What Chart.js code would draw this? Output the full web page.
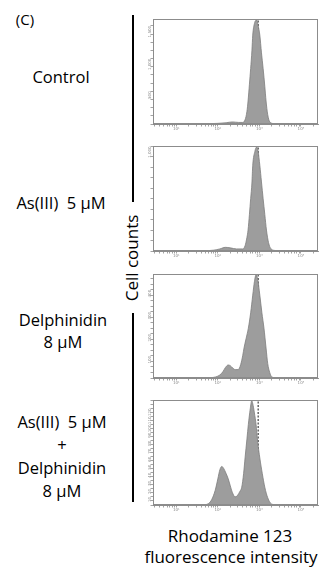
<!DOCTYPE html>
<html><head><meta charset="utf-8">
<script src="https://cdn.jsdelivr.net/npm/chart.js@4"></script>
<style>
body{margin:0;width:320px;height:570px;background:#fff;position:relative;overflow:hidden;font-family:'Open Sans',sans-serif;color:#000}
.t{position:absolute;white-space:nowrap;transform:translate(-50%,-50%);font-size:16.5px;line-height:1}
.c{position:absolute}
.bar{position:absolute;left:132px;width:2px;background:#000}
</style></head><body>
<div class="t" style="left:25px;top:19px;font-size:15px">(C)</div>
<div class="t" style="left:61px;top:77px">Control</div>
<div class="t" style="left:61px;top:203px">As(III)&nbsp; 5 µM</div>
<div class="t" style="left:63px;top:320px">Delphinidin</div>
<div class="t" style="left:63px;top:342px">8 µM</div>
<div class="t" style="left:62px;top:422px">As(III)&nbsp; 5 µM</div>
<div class="t" style="left:62px;top:445px">+</div>
<div class="t" style="left:62px;top:468px">Delphinidin</div>
<div class="t" style="left:62px;top:491px">8 µM</div>
<div class="bar" style="top:15px;height:187px"></div>
<div class="bar" style="top:313px;height:189px"></div>
<div class="t" style="left:131px;top:258px;font-size:17px;transform:translate(-50%,-50%) rotate(-90deg)">Cell counts</div>
<div class="t" style="left:230px;top:535px;font-size:17px">Rhodamine 123</div>
<div class="t" style="left:231px;top:556px;font-size:17px">fluorescence intensity</div>
<canvas id="p0" class="c"></canvas>
<canvas id="p1" class="c"></canvas>
<canvas id="p2" class="c"></canvas>
<canvas id="p3" class="c"></canvas>
<script>
// ---- data (x = log10 Rhodamine 123 fluorescence, y = cell counts) ----
const logFluorControl = [1.3,1.8,2.0,2.2,2.35,2.5,2.6,2.655,2.7,2.727,2.76,2.79,2.82,2.84,2.88,2.935,2.97,3.01,3.05,3.09,3.13,3.16,3.2,3.25,3.35,3.6];
const countsControl   = [0,5,10,19,32,24,24,64,192,352,608,848,1120,1360,1536,1590,1504,1360,1088,848,576,352,144,32,6,0];

const logFluorAs = [1.3,1.7,1.9,2.05,2.18,2.3,2.45,2.6,2.655,2.7,2.727,2.76,2.79,2.82,2.84,2.89,2.935,2.97,3.01,3.05,3.09,3.13,3.17,3.22,3.28,3.4,3.6];
const countsAs   = [0,3,8,20,35,30,20,20,50,130,200,350,500,650,820,950,995,950,820,660,500,350,200,80,20,4,0];

const logFluorDel = [1.5,1.75,1.95,2.05,2.12,2.18,2.25,2.3,2.36,2.42,2.49,2.55,2.6,2.63,2.68,2.734,2.79,2.84,2.88,2.92,2.96,3.01,3.06,3.11,3.16,3.2,3.25,3.3,3.4,3.6];
const countsDel   = [0,1,5,14,28,47,59,56,45,38,38,61,103,136,179,226,296,376,437,468,447,376,296,226,136,66,24,5,1,0];

const logFluorAsDel = [1.5,1.7,1.78,1.85,1.935,2.0,2.05,2.095,2.14,2.2,2.25,2.295,2.35,2.415,2.47,2.53,2.575,2.62,2.655,2.7,2.734,2.78,2.815,2.85,2.88,2.92,2.96,3.01,3.07,3.13,3.2,3.29,3.4,3.6];
const countsAsDel   = [0,0.4,2,6.5,18,32.5,44,48,45.5,39,32.5,24.7,15.6,10.1,11.7,16.9,22.1,39,58.5,81.9,100,119.6,129.5,123.5,114.4,100,78,58.5,39,22.1,9.1,1.3,0.3,0];

const markerLog = 2.97;               // vertical reference line (control peak)
const xDecades = [1,2,3,4];
const xDecadeLabels = ['10¹','10²','10³','10⁴'];
const xRange = [0.44, 4.41];

const yMaxes = [1600, 1000, 470, 130];
const yTickSteps = [125, 100, 25, 5];
const yTickLabels = [[500,1000,1500],[250,750,1000],[100,200,300,400],[10,20,30,40,50,60,70,80,90,100,110,120]];

// ---- layout ----
const boxTops = [17,144,272,398];
const boxHeights = [107,107,106,107];
const panels = [
  [logFluorControl, countsControl],
  [logFluorAs, countsAs],
  [logFluorDel, countsDel],
  [logFluorAsDel, countsAsDel]
];

const xTickVals = [];
for (let d = 0; d <= 4; d++) {
  for (let k = 1; k <= 9; k++) {
    const v = d + Math.log10(k);
    if (v >= xRange[0] && v <= xRange[1]) xTickVals.push(k === 1 ? d : v);
  }
}

const boxPlugin = {
  id: 'box',
  afterDatasetsDraw(chart) {
    const a = chart.chartArea, ctx = chart.ctx;
    ctx.save();
    ctx.strokeStyle = '#8c8c8c';
    ctx.lineWidth = 1;
    ctx.strokeRect(Math.round(a.left) + 0.5, Math.round(a.top) + 0.5, Math.round(a.right - a.left) - 1, Math.round(a.bottom - a.top) - 1);
    ctx.restore();
  }
};

panels.forEach((p, i) => {
  const cv = document.getElementById('p' + i);
  const h = 1 + boxHeights[i] + 12;
  cv.width = 179; cv.height = h;
  cv.style.left = '141px'; cv.style.top = (boxTops[i] - 1) + 'px';
  cv.style.width = '179px'; cv.style.height = h + 'px';
  const yMax = yMaxes[i];
  const yTicks = [];
  for (let v = 0; v <= yMax; v += yTickSteps[i]) yTicks.push(v);
  new Chart(cv, {
    type: 'line',
    data: {
      datasets: [
        {
          data: p[0].map((x, j) => ({ x: x, y: p[1][j] })),
          fill: 'origin',
          backgroundColor: '#9d9d9d',
          borderColor: '#7e7e7e',
          borderWidth: 0.8,
          pointRadius: 0,
          tension: 0.3,
          cubicInterpolationMode: 'monotone'
        },
        {
          data: [{ x: markerLog, y: 0 }, { x: markerLog, y: yMax }],
          borderColor: '#1a1a1a',
          borderWidth: 1,
          borderDash: [2, 1.5],
          pointRadius: 0,
          fill: false
        }
      ]
    },
    options: {
      responsive: false,
      animation: false,
      devicePixelRatio: 1,
      layout: { padding: { top: 1, right: 2, left: 0, bottom: 0 } },
      plugins: { legend: { display: false }, tooltip: { enabled: false } },
      scales: {
        x: {
          type: 'linear', min: xRange[0], max: xRange[1],
          afterBuildTicks: s => { s.ticks = xTickVals.map(v => ({ value: v })); },
          afterFit: s => { s.height = 12; },
          ticks: {
            autoSkip: false, maxRotation: 0, minRotation: 0, padding: 0,
            font: { size: 4, family: 'DejaVu Sans' }, color: '#8a8a8a',
            callback: v => { const k = xDecades.indexOf(v); return k >= 0 ? xDecadeLabels[k] : ''; }
          },
          grid: { drawOnChartArea: false, tickLength: 2.5, color: '#8c8c8c', lineWidth: 0.8 },
          border: { color: '#8c8c8c' }
        },
        y: {
          min: 0, max: yMax,
          afterBuildTicks: s => { s.ticks = yTicks.map(v => ({ value: v })); },
          afterFit: s => { s.width = 12; },
          ticks: {
            autoSkip: false, minRotation: 90, maxRotation: 90, padding: 1,
            font: { size: 4, family: 'DejaVu Sans' }, color: '#8a8a8a',
            callback: v => (yTickLabels[i].includes(v) ? v.toLocaleString('en-US') : '')
          },
          grid: { drawOnChartArea: false, tickLength: 2.5, color: '#8c8c8c', lineWidth: 0.8 },
          border: { color: '#8c8c8c' }
        }
      }
    },
    plugins: [boxPlugin]
  });
});
</script>
</body></html>
